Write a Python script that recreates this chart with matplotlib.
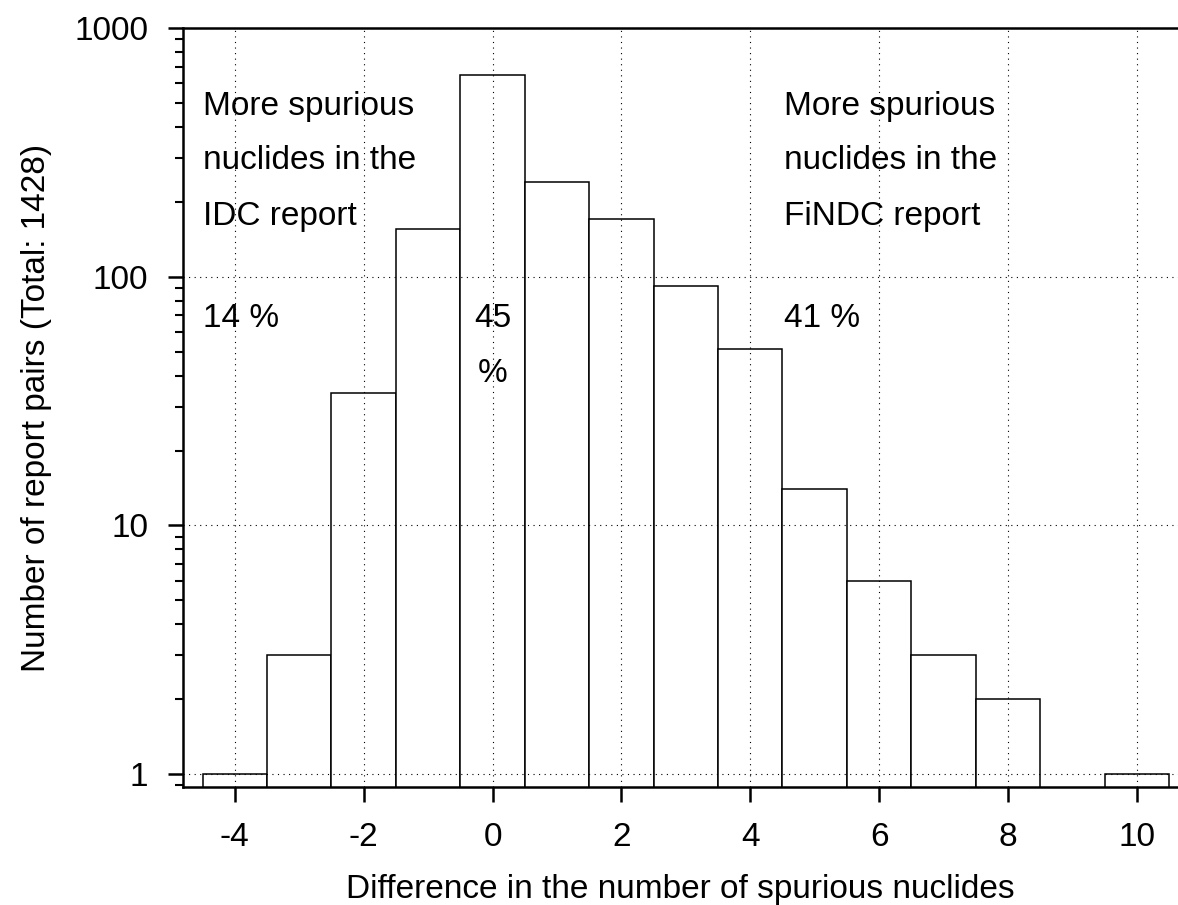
import numpy as np
import matplotlib.pyplot as plt
from matplotlib.ticker import LogLocator, NullFormatter, FixedLocator

plt.rcParams['font.family'] = ['Liberation Sans', 'DejaVu Sans']
plt.rcParams['axes.unicode_minus'] = False

# difference in number of spurious nuclides (FiNDC - IDC) and counts
diff = [-4, -3, -2, -1, 0, 1, 2, 3, 4, 5, 6, 7, 8, 9, 10]
counts = [1, 3, 34, 155, 650, 240, 170, 92, 51, 14, 6, 3, 2, 0, 1]

fig = plt.figure(figsize=(11.78, 9.05), dpi=100)
ax = fig.add_axes([0.1553, 0.1304, 0.8447, 0.8386])

# bars start at 1 on a log scale, skip the empty bin
x = np.array(diff, dtype=float)
y = np.array(counts, dtype=float)
m = y > 0
ax.bar(x[m], y[m], width=1.0, bottom=0.0, align='center',
       facecolor='white', edgecolor='black', linewidth=1.1, zorder=2)

ax.set_yscale('log')
ax.set_ylim(0.887, 1000)
ax.set_xlim(-4.806, 10.64)

ax.xaxis.set_major_locator(FixedLocator([-4, -2, 0, 2, 4, 6, 8, 10]))
ax.yaxis.set_major_locator(FixedLocator([1, 10, 100, 1000]))
ax.set_yticklabels(['1', '10', '100', '1000'])
ax.yaxis.set_minor_locator(LogLocator(base=10, subs=np.arange(2, 10)))
ax.yaxis.set_minor_formatter(NullFormatter())

ax.grid(True, which='major', color='black', linestyle=(0, (1, 4)), linewidth=0.8, zorder=3)
ax.set_axisbelow(False)

ax.spines['right'].set_visible(False)
for s in ['left', 'bottom', 'top']:
    ax.spines[s].set_linewidth(1.8)

fs = 24
ax.tick_params(axis='both', which='major', direction='out', length=11, width=1.8,
               labelsize=fs, top=False, right=False)
ax.tick_params(axis='y', which='major', pad=14)
ax.tick_params(axis='x', which='major', pad=14)
ax.tick_params(axis='y', which='minor', direction='out', length=6, width=1.5)

ax.set_xlabel('Difference in the number of spurious nuclides', fontsize=fs, labelpad=15)
ax.set_ylabel('Number of report pairs (Total: 1428)', fontsize=fs, labelpad=16)

ax.text(-4.49, 446, 'More spurious', fontsize=fs, va='baseline', ha='left', zorder=4)
ax.text(-4.49, 271, 'nuclides in the', fontsize=fs, va='baseline', ha='left', zorder=4)
ax.text(-4.49, 161, 'IDC report', fontsize=fs, va='baseline', ha='left', zorder=4)
ax.text(-4.49, 62.7, '14 %', fontsize=fs, va='baseline', ha='left', zorder=4)

ax.text(0, 62.7, '45', fontsize=fs, va='baseline', ha='center', zorder=4)
ax.text(0, 37.7, '%', fontsize=fs, va='baseline', ha='center', zorder=4)

ax.text(4.53, 446, 'More spurious', fontsize=fs, va='baseline', ha='left', zorder=4)
ax.text(4.53, 271, 'nuclides in the', fontsize=fs, va='baseline', ha='left', zorder=4)
ax.text(4.53, 161, 'FiNDC report', fontsize=fs, va='baseline', ha='left', zorder=4)
ax.text(4.53, 62.7, '41 %', fontsize=fs, va='baseline', ha='left', zorder=4)

fig.savefig('out.png', dpi=100)
